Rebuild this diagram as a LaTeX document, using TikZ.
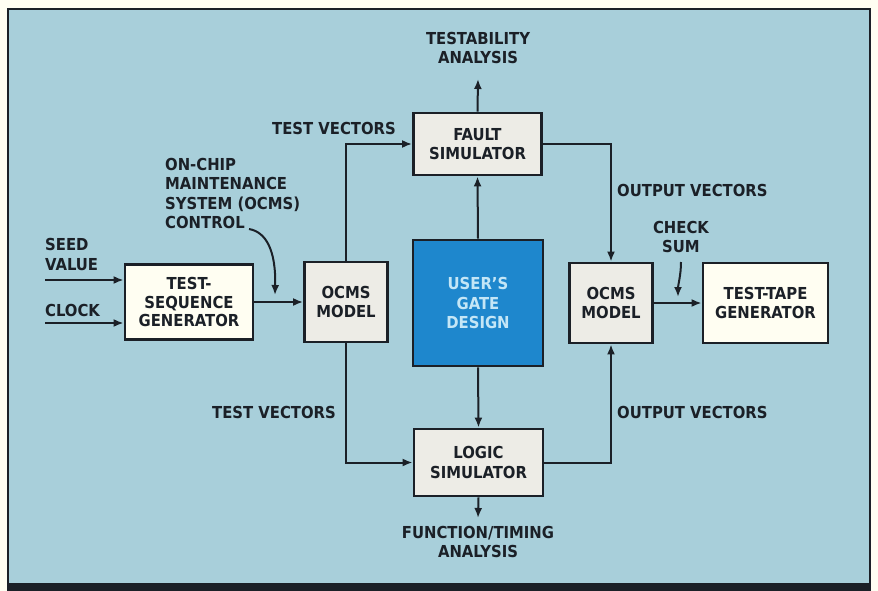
\documentclass[tikz,border=0pt]{standalone}
\usepackage{fontspec}
\setmainfont{DejaVu Sans Condensed}
\usetikzlibrary{arrows.meta}
\definecolor{ink}{HTML}{1B2027}
\definecolor{panel}{HTML}{A8CFDA}
\definecolor{boxgray}{HTML}{EDECE6}
\definecolor{cream}{HTML}{FFFEF2}
\definecolor{gateblue}{HTML}{1E87CD}
\definecolor{gatetext}{HTML}{C4E6F6}
\begin{document}
\begin{tikzpicture}[x=1pt,y=-1pt,
  txt/.style={text=ink,font=\bfseries\fontsize{16.5}{19.5}\selectfont,inner sep=0pt},
  box/.style={txt,draw=ink,line width=2.8pt,fill=boxgray,align=center},
  conn/.style={draw=ink,line width=2pt,-{Latex[length=10pt,width=8pt]}},
  wire/.style={draw=ink,line width=2pt}]
\useasboundingbox (0,0) rectangle (878,591);
\fill[cream] (0,0) rectangle (878,591);
\fill[panel] (8,9) rectangle (870,583);
\draw[ink,line width=1.8pt] (8,583) -- (8,9) -- (870,9) -- (870,583);
\fill[ink] (7,583) rectangle (871,591);

% boxes
\node[box,minimum width=128pt,minimum height=62pt] (fault) at (477.5,144) {FAULT\\SIMULATOR};
\node[box,fill=gateblue,text=gatetext,minimum width=130pt,minimum height=126pt] (gate) at (478,303) {USER'S\\GATE\\DESIGN};
\node[box,minimum width=129pt,minimum height=67pt] (logic) at (478.5,462.5) {LOGIC\\SIMULATOR};
\node[box,minimum width=83pt,minimum height=80pt] (ocmsL) at (346,302) {OCMS\\MODEL};
\node[box,fill=cream,minimum width=128pt,minimum height=75pt,font=\bfseries\fontsize{16.5}{18.5}\selectfont] (tsg) at (189,302) {TEST-\\SEQUENCE\\GENERATOR};
\node[box,minimum width=83pt,minimum height=80pt] (ocmsR) at (611,303) {OCMS\\MODEL};
\node[box,fill=cream,minimum width=125pt,minimum height=80pt] (tape) at (765.5,303) {TEST-TAPE\\GENERATOR};

% labels
\node[txt,align=center] (testa) at (478,48) {TESTABILITY\\ANALYSIS};
\node[txt,align=center] (funct) at (478,542) {FUNCTION/TIMING\\ANALYSIS};
\node[txt,anchor=east] (tv1) at (396,128) {TEST VECTORS};
\node[txt,anchor=east] (tv2) at (336,412) {TEST VECTORS};
\node[txt,anchor=west] (ov1) at (617,190) {OUTPUT VECTORS};
\node[txt,anchor=west] (ov2) at (617,412) {OUTPUT VECTORS};
\node[txt,align=left,anchor=north west] (ctrl) at (165,158) {ON-CHIP\\MAINTENANCE\\SYSTEM (OCMS)\\CONTROL};
\node[txt,align=left,anchor=west] (seed) at (45,254.5) {SEED\\VALUE};
\node[txt,anchor=west] (clock) at (45,310) {CLOCK};
\node[txt,align=center] (chk) at (681,237) {CHECK\\SUM};

% free ends
\coordinate (seedS) at (45,280);
\coordinate (clockS) at (45,323);
\coordinate (ctrlS) at (249,229);
\coordinate (ctrlE) at (275,295);
\coordinate (chkS) at (681,262);
\coordinate (chkE) at (678,297);
\coordinate (testaE) at (478,79);
\coordinate (functE) at (478,518);

% connectors
\draw[conn] (seedS) -- (seedS -| tsg.west);
\draw[conn] (clockS) -- (clockS -| tsg.west);
\draw[conn] (tsg.east) -- (ocmsL.west);
\draw[conn] (ctrlS) .. controls (266,232) and (276,250) .. (ctrlE);
\draw[conn] (ocmsL.north) |- (fault.west);
\draw[conn] (ocmsL.south) |- (logic.west);
\draw[conn] (fault.north) -- (testaE);
\draw[conn] (gate.north) -- (fault.south);
\draw[conn] (gate.south) -- (logic.north);
\draw[conn] (logic.south) -- (functE);
\draw[conn] (fault.east) -| (ocmsR.north);
\draw[conn] (logic.east) -| (ocmsR.south);
\draw[conn] (ocmsR.east) -- (tape.west);
\draw[conn] (chkS) .. controls (681,275) and (678,285) .. (chkE);
\end{tikzpicture}
\end{document}
